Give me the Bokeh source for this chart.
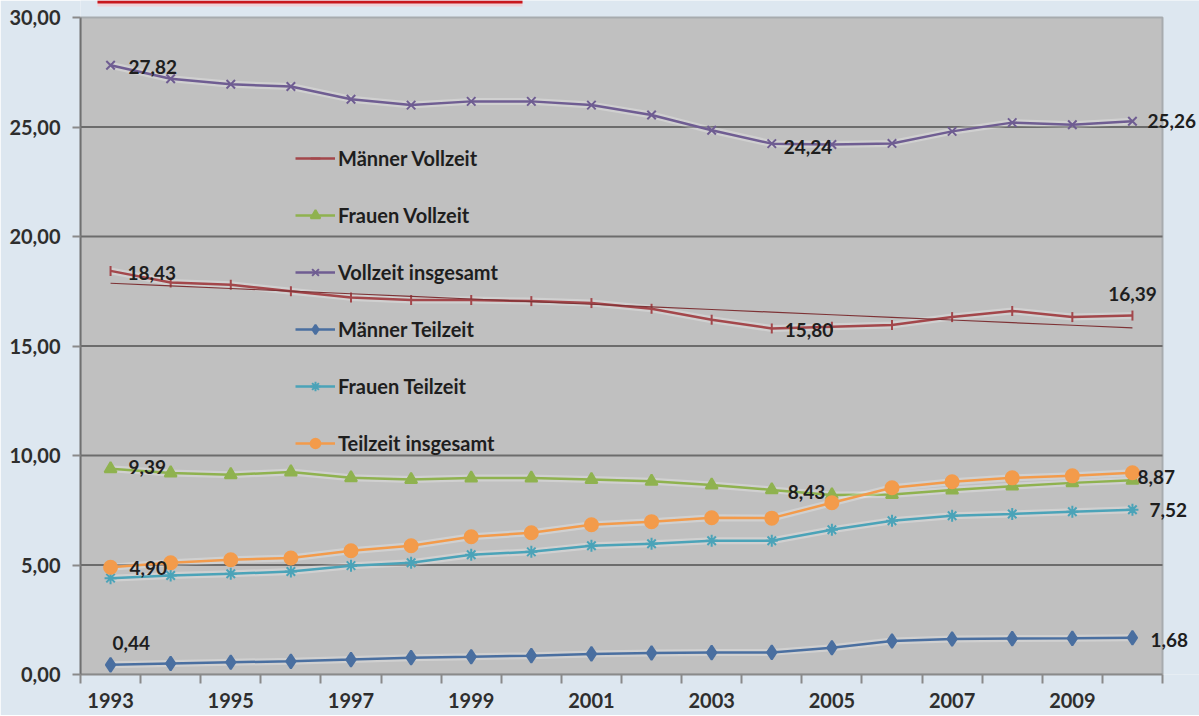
import math
import numpy as np
from bokeh.plotting import figure
from bokeh.models import FixedTicker, Legend, LegendItem, Range1d, Label, BoxAnnotation
from bokeh.embed import file_html
from bokeh.resources import INLINE

years = list(range(1993, 2011))
year_labels = [str(y) for y in range(1993, 2010, 2)]
y_ticks = [0, 5, 10, 15, 20, 25, 30]
y_tick_labels = ["0,00", "5,00", "10,00", "15,00", "20,00", "25,00", "30,00"]
grid_vals = [5, 10, 15, 20, 25]

maenner_vollzeit = [18.43, 17.90, 17.80, 17.50, 17.22, 17.10, 17.10, 17.05, 16.96, 16.70,
                    16.20, 15.80, 15.88, 15.96, 16.32, 16.60, 16.32, 16.39]
frauen_vollzeit = [9.39, 9.20, 9.12, 9.25, 8.98, 8.90, 8.97, 8.97, 8.90, 8.82,
                   8.65, 8.43, 8.20, 8.22, 8.42, 8.60, 8.75, 8.87]
vollzeit_insgesamt = [27.82, 27.20, 26.95, 26.85, 26.27, 26.00, 26.17, 26.17, 26.00, 25.55,
                      24.85, 24.24, 24.20, 24.25, 24.80, 25.20, 25.10, 25.26]
maenner_teilzeit = [0.44, 0.50, 0.56, 0.60, 0.68, 0.77, 0.81, 0.86, 0.94, 0.98,
                    1.00, 1.01, 1.22, 1.53, 1.62, 1.64, 1.65, 1.68]
frauen_teilzeit = [4.40, 4.52, 4.60, 4.70, 4.97, 5.10, 5.47, 5.60, 5.88, 5.97,
                   6.11, 6.11, 6.61, 7.02, 7.25, 7.33, 7.43, 7.52]
teilzeit_insgesamt = [4.90, 5.10, 5.24, 5.32, 5.65, 5.88, 6.29, 6.47, 6.84, 6.98,
                      7.16, 7.14, 7.84, 8.53, 8.80, 8.98, 9.07, 9.21]

series = [
    ("Männer Vollzeit", maenner_vollzeit, "#a3474b", "dash", 10, math.pi / 2),
    ("Frauen Vollzeit", frauen_vollzeit, "#8fb24f", "triangle", 12, 0),
    ("Vollzeit insgesamt", vollzeit_insgesamt, "#6f5d92", "x", 12, 0),
    ("Männer Teilzeit", maenner_teilzeit, "#4a6fa0", "diamond", 14, 0),
    ("Frauen Teilzeit", frauen_teilzeit, "#4ba3b8", "asterisk", 12, 0),
    ("Teilzeit insgesamt", teilzeit_insgesamt, "#f39b4b", "circle", 13, 0),
]

# layout (pixels)
LEFT, PLOT_W, PLOT_TOP, PLOT_H, W, H = 80, 1082, 17, 657, 1199, 715
x_start, x_end = years[0] - 0.5, years[-1] + 0.5
y_start, y_end = y_ticks[0], y_ticks[-1]
px_x = PLOT_W / (x_end - x_start)
px_y = PLOT_H / (y_end - y_start)
frame_w = W - LEFT
frame_h = PLOT_TOP + PLOT_H
y_top = y_start + frame_h / px_y

p = figure(width=W, height=H, output_backend="svg", toolbar_location=None,
           x_range=Range1d(x_start, x_start + frame_w / px_x),
           y_range=Range1d(y_start, y_top),
           frame_width=frame_w, frame_height=frame_h,
           min_border_left=LEFT, min_border_top=0, min_border_right=0,
           min_border_bottom=H - frame_h)
p.background_fill_color = "#dde7f0"
p.border_fill_color = "#dde7f0"
p.outline_line_color = None

# decorative cut-off title banner at the top edge
def px_to_x(px):
    return x_start + (px - LEFT) / px_x

def px_to_y(py):
    return y_start + (frame_h - py) / px_y

p.add_layout(BoxAnnotation(left=px_to_x(97), right=px_to_x(522), top=y_top, bottom=px_to_y(6),
                           fill_color="#f1cdd3", fill_alpha=0.9, line_color=None))
p.add_layout(BoxAnnotation(left=px_to_x(97), right=px_to_x(522), top=y_top, bottom=px_to_y(3),
                           fill_color="#c8161c", fill_alpha=1.0, line_color=None))

# plot area
p.quad(left=[x_start], right=[x_end], bottom=[y_start], top=[y_end],
       fill_color="#c0c0c0", line_color="#a7abae", line_width=2)
p.segment(x0=[x_start] * len(grid_vals), x1=[x_end] * len(grid_vals),
          y0=grid_vals, y1=grid_vals, line_color="#6c6c6c", line_width=2)

# axes
p.xaxis.bounds = (x_start, x_end)
p.xaxis.ticker = FixedTicker(ticks=list(range(1993, 2010, 2)),
                             minor_ticks=[y - 0.5 for y in range(1993, 2012)])
p.xaxis.major_label_overrides = {int(l): l for l in year_labels}
p.xaxis.major_tick_line_color = None
p.xaxis.minor_tick_line_color = "#8a8a8a"
p.xaxis.minor_tick_line_width = 2
p.xaxis.minor_tick_out = 9
p.xaxis.minor_tick_in = 0
p.xaxis.axis_line_color = "#8a8a8a"
p.xaxis.axis_line_width = 2
p.xaxis.major_label_standoff = 9
p.yaxis.bounds = (y_start, y_end)
p.yaxis.ticker = FixedTicker(ticks=y_ticks)
p.yaxis.major_label_overrides = dict(zip(y_ticks, y_tick_labels))
p.yaxis.major_tick_line_color = "#8a8a8a"
p.yaxis.major_tick_line_width = 2
p.yaxis.major_tick_out = 8
p.yaxis.major_tick_in = 0
p.yaxis.minor_tick_line_color = None
p.yaxis.axis_line_color = "#707070"
p.yaxis.axis_line_width = 2
p.yaxis.major_label_standoff = 12
for ax in (p.xaxis, p.yaxis):
    ax.major_label_text_font = "Lato"
    ax.major_label_text_font_style = "bold"
    ax.major_label_text_font_size = "20px"
    ax.major_label_text_color = "#2e2e2e"
p.xgrid.visible = False
p.ygrid.visible = False

items = []
for name, vals, color, marker, size, ang in series:
    p.line(years, vals, line_color="white", line_alpha=0.25, line_width=7)
    lr = p.line(years, vals, line_color=color, line_width=2.5)
    sr = p.scatter(years, vals, marker=marker, size=size, angle=ang, line_color=color,
                   fill_color=color, line_width=2)
    items.append(LegendItem(label=name, renderers=[lr, sr]))

# linear trend line for Männer Vollzeit
coef = np.polyfit(years, maenner_vollzeit, 1)
trend = list(np.polyval(coef, years))
p.line(years, trend, line_color="#7e3336", line_width=1.2)

legend = Legend(items=items, location=(215, 219), orientation="vertical",
                background_fill_alpha=0, border_line_color=None,
                label_text_font="Lato", label_text_font_style="bold",
                label_text_font_size="20px", label_text_color="#1e1e1e",
                glyph_width=40, glyph_height=24, label_height=24,
                label_standoff=3, spacing=33, padding=0, margin=0)
p.add_layout(legend, "center")

def fmt(v):
    return f"{v:.2f}".replace(".", ",")

# data labels: (series values, index, x_offset, y_offset (down positive), align)
label_specs = [
    (vollzeit_insgesamt, 0, 18, 2, "left"),
    (vollzeit_insgesamt, 11, 12, 3, "left"),
    (vollzeit_insgesamt, 17, 15, 0, "left"),
    (maenner_vollzeit, 0, 17, 2, "left"),
    (maenner_vollzeit, 11, 13, 2, "left"),
    (maenner_vollzeit, 17, 0, -22, "center"),
    (frauen_vollzeit, 0, 18, -2, "left"),
    (frauen_vollzeit, 11, 16, 2, "left"),
    (frauen_vollzeit, 17, 5, -3, "left"),
    (teilzeit_insgesamt, 0, 19, 1, "left"),
    (frauen_teilzeit, 17, 17, 0, "left"),
    (maenner_teilzeit, 0, 2, -22, "left"),
    (maenner_teilzeit, 17, 18, 2, "left"),
]
for vals, i, dx, dy, align in label_specs:
    p.add_layout(Label(x=years[i], y=vals[i], text=fmt(vals[i]), x_offset=dx, y_offset=-dy,
                       text_align=align, text_baseline="middle", text_font="Lato",
                       text_font_style="bold", text_font_size="19px", text_color="#1e1e1e"))

open("out.html", "w").write(file_html(p, INLINE))
